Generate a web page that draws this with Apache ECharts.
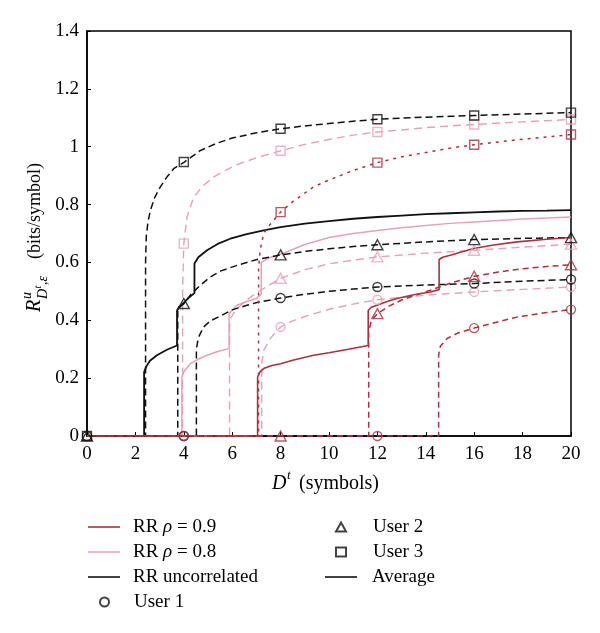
<!DOCTYPE html>
<html><head><meta charset="utf-8">
<script src="https://cdn.jsdelivr.net/npm/echarts@6/dist/echarts.min.js"></script>
<style>html,body{margin:0;padding:0;background:#fff}#c{width:600px;height:633px}</style>
</head><body><div id="c"></div>
<script>
// ---- data (x = D^t in symbols, y = rate in bits/symbol) ----
const xTicks = [0,2,4,6,8,10,12,14,16,18,20];
const yTicks = [0,0.2,0.4,0.6,0.8,1,1.2,1.4];

// RR uncorrelated (black)
const uncAvg = [[0,0],[2.36,0],[2.36,0.221],[2.45,0.24],[2.6,0.26],[2.89,0.279],[3.3,0.298],[3.72,0.313],[3.72,0.434],[3.8,0.445],[4.0,0.46],[4.2,0.478],[4.44,0.494],[4.44,0.596],[4.6,0.618],[4.96,0.642],[5.4,0.664],[5.92,0.682],[6.6,0.698],[7.3,0.711],[8,0.722],[9,0.734],[10,0.743],[11,0.751],[12,0.757],[13,0.762],[14,0.767],[15,0.77],[16,0.773],[17,0.776],[18,0.778],[19,0.779],[20,0.781]];
const uncU3 = [[0,0],[2.42,0],[2.42,0.6],[2.45,0.69],[2.52,0.74],[2.62,0.78],[2.8,0.825],[3.03,0.861],[3.3,0.895],[3.58,0.924],[4.02,0.947],[4.69,0.987],[5.3,1.01],[6,1.03],[7,1.048],[8,1.062],[9,1.072],[10,1.08],[11,1.088],[12,1.095],[13,1.099],[14,1.102],[15,1.105],[16,1.108],[18,1.113],[20,1.118]];
const uncU2 = [[0,0],[3.75,0],[3.75,0.44],[4.02,0.458],[4.3,0.49],[4.68,0.521],[5.1,0.55],[5.51,0.57],[6.2,0.59],[7.02,0.61],[8,0.626],[9,0.638],[10,0.647],[11,0.655],[12,0.661],[14,0.671],[16,0.679],[18,0.683],[20,0.686]];
const uncU1 = [[0,0],[4.52,0],[4.52,0.3],[4.6,0.34],[4.82,0.377],[5.1,0.398],[5.51,0.415],[6,0.436],[6.61,0.452],[7.1,0.463],[7.6,0.47],[8,0.477],[9,0.49],[10,0.5],[11,0.508],[12,0.515],[14,0.522],[16,0.527],[18,0.535],[20,0.541]];

// RR rho = 0.8 (pink)
const r8Avg = [[0,0],[3.92,0],[3.92,0.204],[4.0,0.222],[4.27,0.25],[4.6,0.266],[4.96,0.279],[5.4,0.292],[5.87,0.302],[5.87,0.423],[6.2,0.452],[6.6,0.465],[7.0,0.475],[7.2,0.49],[7.2,0.6],[7.5,0.615],[8,0.628],[9,0.662],[10,0.686],[11,0.7],[12,0.71],[13,0.72],[14,0.728],[15,0.735],[16,0.74],[17,0.745],[18,0.75],[19,0.754],[20,0.757]];
const r8U3 = [[0,0],[3.95,0],[3.95,0.5],[4,0.665],[4.13,0.757],[4.41,0.826],[4.8,0.865],[5.23,0.895],[5.8,0.922],[6.33,0.942],[7,0.962],[7.85,0.982],[8,0.986],[9,1.008],[10,1.025],[11,1.04],[12,1.051],[13,1.058],[14,1.066],[15,1.072],[16,1.077],[18,1.086],[20,1.094]];
const r8U2 = [[0,0],[5.89,0],[5.89,0.38],[5.95,0.41],[6.2,0.44],[6.6,0.47],[7.0,0.495],[7.5,0.52],[8,0.545],[9,0.575],[10,0.595],[11,0.608],[12,0.619],[14,0.632],[16,0.642],[18,0.653],[20,0.663]];
const r8U1 = [[0,0],[7.22,0],[7.22,0.25],[7.3,0.296],[7.6,0.34],[8,0.377],[8.5,0.398],[9,0.413],[10,0.438],[11,0.456],[12,0.471],[14,0.487],[16,0.498],[18,0.507],[20,0.515]];

// RR rho = 0.9 (dark red)
const r9Avg = [[0,0],[7.05,0],[7.05,0.204],[7.15,0.222],[7.3,0.233],[7.6,0.243],[8,0.25],[8.5,0.262],[9.36,0.279],[10,0.288],[10.8,0.3],[11.62,0.313],[11.62,0.434],[11.75,0.445],[11.98,0.452],[12.4,0.465],[12.81,0.475],[13.5,0.488],[14.19,0.498],[14.55,0.506],[14.55,0.61],[14.7,0.618],[15.01,0.625],[15.5,0.637],[15.98,0.648],[16.8,0.66],[17.77,0.671],[19,0.68],[20,0.686]];
const r9U3 = [[0,0],[7.09,0],[7.09,0.58],[7.15,0.64],[7.3,0.7],[7.5,0.725],[7.71,0.745],[8,0.774],[8.5,0.81],[9.36,0.861],[10,0.885],[11,0.918],[12,0.945],[13,0.965],[14,0.98],[15,0.995],[16,1.007],[18,1.026],[20,1.042]];
const r9U2 = [[0,0],[11.64,0],[11.64,0.36],[11.75,0.4],[12,0.423],[12.5,0.45],[13,0.47],[14.19,0.504],[15,0.528],[16,0.552],[17,0.567],[18,0.578],[19,0.586],[20,0.592]];
const r9U1 = [[0,0],[14.53,0],[14.53,0.28],[14.6,0.31],[14.88,0.337],[15.3,0.355],[16,0.373],[17,0.395],[17.77,0.411],[19,0.427],[20,0.437]];

// markers
const uncU1Marks = [[0,0],[4,0],[8,0.477],[12,0.515],[16,0.527],[20,0.541]];
const uncU2Marks = [[0,0],[4,0.458],[8,0.626],[12,0.661],[16,0.679],[20,0.686]];
const uncU3Marks = [[0,0],[4,0.947],[8,1.062],[12,1.095],[16,1.108],[20,1.118]];
const r8U1Marks = [[4,0],[8,0.377],[12,0.471],[16,0.498],[20,0.515]];
const r8U2Marks = [[8,0.545],[12,0.619],[16,0.642],[20,0.663]];
const r8U3Marks = [[4,0.665],[8,0.986],[12,1.051],[16,1.077],[20,1.094]];
const r9U1Marks = [[4,0],[12,0],[16,0.373],[20,0.437]];
const r9U2Marks = [[8,0],[12,0.423],[16,0.552],[20,0.592]];
const r9U3Marks = [[8,0.774],[12,0.945],[16,1.007],[20,1.042]];

const legendLines = ['RR ρ = 0.9','RR ρ = 0.8','RR uncorrelated'];
const legendUsers = ['User 1','User 2','User 3'];

// ---- styling ----
const FONT = 'Liberation Serif';
const BLACK = '#111111', PINK = '#e6a2b5', RED = '#a8323f';
const DASH = [7,4], PDASH = [8,5], DOT = [3,5], RDASH = [6,4];

function ln(name, data, color, type, width, z){
  return {type:'line', name, data, symbol:'none', showSymbol:false, animation:false, silent:true, z,
    lineStyle:{color, width, type}, itemStyle:{color}};
}
function mk(name, data, color, symbol, size, z){
  return {type:'scatter', name, data, symbol, symbolSize:size, animation:false, silent:true, z,
    itemStyle:{color:'rgba(255,255,255,0)', borderColor:color, borderWidth:1.4}};
}
const TRI = [11,10], SQ = 9, CIR = 9;

const series = [
  ln('RR uncorrelated', uncAvg, BLACK, 'solid', 1.8, 3),
  ln('unc u3', uncU3, BLACK, DASH, 1.5, 3),
  ln('unc u2', uncU2, BLACK, DASH, 1.5, 3),
  ln('unc u1', uncU1, BLACK, DASH, 1.5, 3),
  ln('RR ρ = 0.8', r8Avg, PINK, 'solid', 1.5, 2),
  ln('r8 u3', r8U3, PINK, PDASH, 1.4, 2),
  ln('r8 u2', r8U2, PINK, PDASH, 1.4, 2),
  ln('r8 u1', r8U1, PINK, PDASH, 1.4, 2),
  ln('RR ρ = 0.9', r9Avg, RED, 'solid', 1.6, 4),
  ln('r9 u3', r9U3, RED, DOT, 1.5, 4),
  ln('r9 u2', r9U2, RED, RDASH, 1.5, 4),
  ln('r9 u1', r9U1, RED, RDASH, 1.5, 4),
  ln('Average', [], BLACK, 'solid', 1.8, 3),
  mk('User 1', uncU1Marks, BLACK, 'circle', CIR, 6),
  mk('User 2', uncU2Marks, BLACK, 'triangle', TRI, 6),
  mk('User 3', uncU3Marks, BLACK, 'rect', SQ, 6),
  mk('r8 m1', r8U1Marks, PINK, 'circle', CIR, 5),
  mk('r8 m2', r8U2Marks, PINK, 'triangle', TRI, 5),
  mk('r8 m3', r8U3Marks, PINK, 'rect', SQ, 5),
  mk('r9 m1', r9U1Marks, RED, 'circle', CIR, 7),
  mk('r9 m2', r9U2Marks, RED, 'triangle', TRI, 7),
  mk('r9 m3', r9U3Marks, RED, 'rect', SQ, 7)
];

const legText = {fontFamily:FONT, fontSize:19, color:'#000', lineHeight:20,
  rich:{n:{fontFamily:FONT, fontSize:19, color:'#000'}, i:{fontFamily:FONT, fontSize:19, fontStyle:'italic', color:'#000'}}};
function legFmt(name){
  if (name.indexOf('ρ') >= 0) { const p = name.split('ρ'); return '{n|' + p[0] + '}{i|ρ}{n|' + p[1] + '}'; }
  return name;
}
const LINE_ICON = 'path://M0,0L32,0L32,1.6L0,1.6Z';
function leg(data, left, top, iw, ih, pad){
  return {data, left, top, orient:'vertical', padding:0, itemWidth:iw, itemHeight:ih, itemGap:5, selectedMode:false,
    symbolKeepAspect:true, formatter:legFmt, textStyle:Object.assign({}, legText, {padding:[0,0,0,pad]}), inactiveColor:'#000'};
}

const axisLineStyle = {color:'#000', width:1.5};
const option = {
  backgroundColor:'#fff',
  animation:false,
  grid:{left:87, right:29, top:31, bottom:197, show:true, borderColor:'#000', borderWidth:1.5, backgroundColor:'transparent'},
  xAxis:{type:'value', min:xTicks[0], max:xTicks[xTicks.length-1], interval:xTicks[1]-xTicks[0],
    axisLine:{show:true, lineStyle:axisLineStyle}, axisTick:{show:true, inside:true, length:4, lineStyle:{color:'#000'}},
    axisLabel:{color:'#000', fontFamily:FONT, fontSize:19, margin:9}, splitLine:{show:false}},
  yAxis:{type:'value', min:yTicks[0], max:yTicks[yTicks.length-1], interval:yTicks[1]-yTicks[0],
    axisLine:{show:true, lineStyle:axisLineStyle}, axisTick:{show:true, inside:true, length:4, lineStyle:{color:'#000'}},
    axisLabel:{color:'#000', fontFamily:FONT, fontSize:19, margin:8}, splitLine:{show:false}},
  legend:[
    leg(legendLines.map(n => ({name:n, icon:LINE_ICON})), 88, 517, 32, 1.6, 8),
    leg([{name:legendUsers[0], icon:'circle'}], 99, 592, 9, 9, 20),
    leg([{name:legendUsers[1], icon:'triangle'}, {name:legendUsers[2], icon:'rect'}], 335, 517, 10, 9, 22),
    leg([{name:'Average', icon:LINE_ICON}], 325, 567, 32, 1.6, 10)
  ],
  series,
  graphic:[
    {type:'group', x:328, y:484, silent:true, children:[
      {type:'text', x:-56, y:0, style:{text:'D', font:'italic 20px "' + FONT + '"', fill:'#000', verticalAlign:'middle'}},
      {type:'text', x:-41, y:-8, style:{text:'t', font:'italic 13px "' + FONT + '"', fill:'#000', verticalAlign:'middle'}},
      {type:'text', x:-29, y:0, style:{text:'(symbols)', font:'20px "' + FONT + '"', fill:'#000', verticalAlign:'middle'}}
    ]},
    {type:'group', x:35, y:234, rotation:Math.PI/2, silent:true, children:[
      {type:'text', x:-78, y:0, style:{text:'R', font:'italic 20px "' + FONT + '"', fill:'#000', verticalAlign:'middle'}},
      {type:'text', x:-65, y:-8, style:{text:'u', font:'italic 14px "' + FONT + '"', fill:'#000', verticalAlign:'middle'}},
      {type:'text', x:-65, y:8, style:{text:'D', font:'italic 14px "' + FONT + '"', fill:'#000', verticalAlign:'middle'}},
      {type:'text', x:-54.5, y:3, style:{text:'t', font:'italic 10px "' + FONT + '"', fill:'#000', verticalAlign:'middle'}},
      {type:'text', x:-51, y:8, style:{text:',ε', font:'italic 14px "' + FONT + '"', fill:'#000', verticalAlign:'middle'}},
      {type:'text', x:-25, y:0, style:{text:'(bits/symbol)', font:'18px "' + FONT + '"', fill:'#000', verticalAlign:'middle'}}
    ]}
  ]
};
const chart = echarts.init(document.getElementById('c'), null, {renderer:'canvas'});
chart.setOption(option);
</script>
</body></html>
